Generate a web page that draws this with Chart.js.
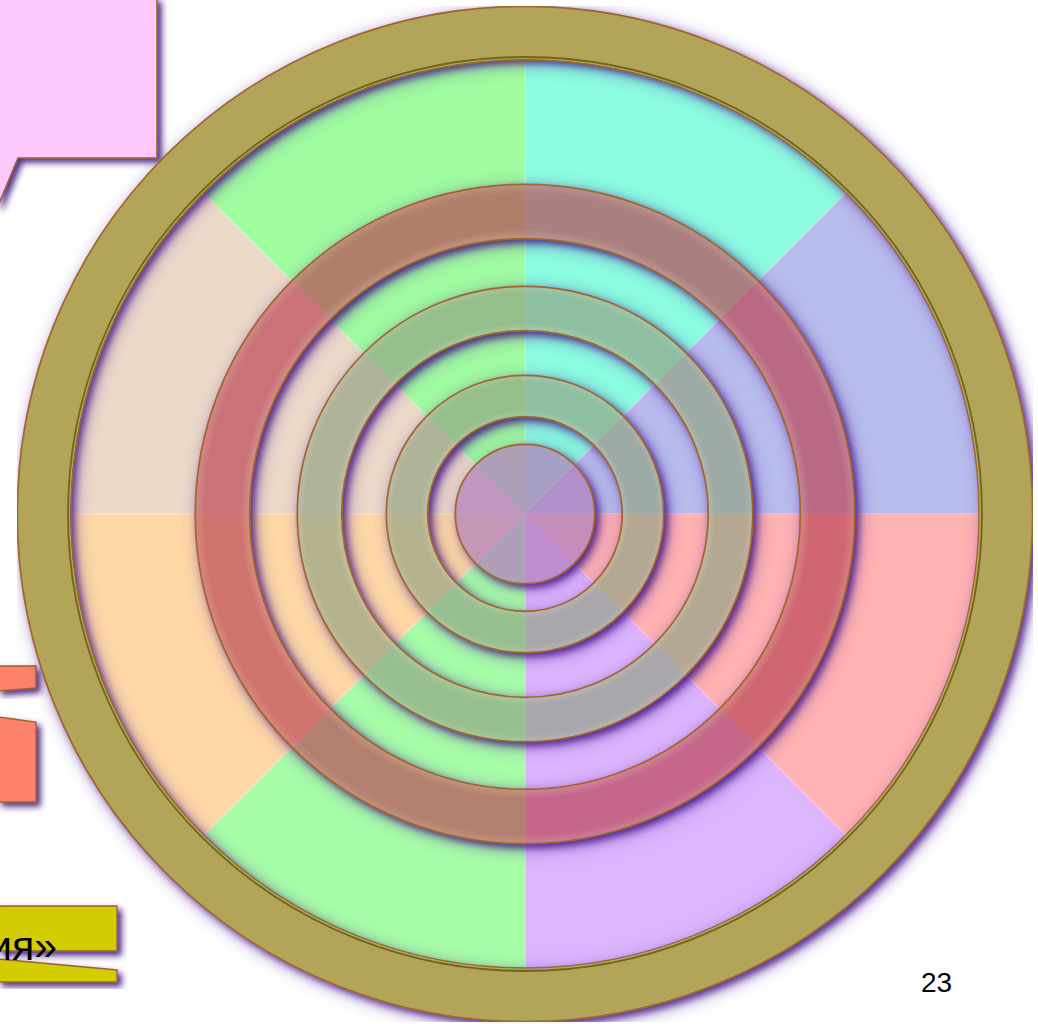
<!DOCTYPE html>
<html lang="ru">
<head>
<meta charset="utf-8">
<title>Кольца</title>
<script src="https://cdn.jsdelivr.net/npm/chart.js@4.4.1/dist/chart.umd.min.js"></script>
<style>
html,body{margin:0;padding:0;background:#fff;}
body{width:1038px;height:1024px;position:relative;overflow:hidden;font-family:"Liberation Sans",Arial,sans-serif;}
#deco{position:absolute;left:0;top:0;}
.wrap{position:absolute;left:17px;top:6px;width:1016px;height:1016px;}
.wrap canvas{position:absolute;left:0;top:0;}
</style>
</head>
<body>
<svg id="deco" width="1038" height="1024" xmlns="http://www.w3.org/2000/svg">
  <defs>
    <filter id="sh" x="-20%" y="-20%" width="150%" height="150%">
      <feDropShadow dx="4" dy="4" stdDeviation="3" flood-color="#3e1478" flood-opacity="0.9"/>
    </filter>
  </defs>
  <polygon points="-2,-2 157,-2 157,158 18,158 -2,206" fill="#fdc9fd" stroke="#9c6230" stroke-width="1.6" filter="url(#sh)"/>
  <polygon points="-2,666 36,666 36,688 -2,691" fill="#ff836a" stroke="#9c6230" stroke-width="1.4" filter="url(#sh)"/>
  <polygon points="-2,717 36,722 36,802 -2,802" fill="#ff836a" stroke="#9c6230" stroke-width="1.4" filter="url(#sh)"/>
  <polygon points="-2,906 117,906 117,951 -2,951" fill="#d2cc00" stroke="#9c6230" stroke-width="1.4" filter="url(#sh)"/>
  <polygon points="-2,959 117,970 117,982 -2,982" fill="#d2cc00" stroke="#9c6230" stroke-width="1.4" filter="url(#sh)"/>
  <text x="57" y="960" text-anchor="end" font-family="Liberation Sans, Arial, sans-serif" font-size="41" fill="#000">ия»</text>
  <text x="921" y="992" font-family="Liberation Sans, Arial, sans-serif" font-size="28" fill="#000">23</text>
</svg>
<div class="wrap">
  <canvas id="pie" width="1016" height="1016"></canvas>
  <canvas id="rings" width="1016" height="1016"></canvas>
</div>
<script>
// ---- data ----
const sectorLabels = ['1', '2', '3', '4', '5', '6', '7', '8'];
const sectorValues = [1, 1, 1, 1, 1, 1, 1, 1];
const ringLabels = ['Внешнее кольцо', 'Промежуток 1', 'Красное кольцо', 'Промежуток 2',
                    'Серое кольцо 1', 'Промежуток 3', 'Серое кольцо 2', 'Промежуток 4', 'Центр'];
const ringValues = [1, 1, 1, 1, 1, 1, 1, 1, 1];

// ---- styles / layout ----
const sectorColors = ['#8cfde0', '#b9bded', '#ffb3b3', '#ddb5fd', '#a8fda8', '#fed9a6', '#ecdac9', '#a0fca0'];
const ringWeights = [53, 125, 55, 47, 45, 44, 42, 27, 70];
const ringFills = ['#b2a55a', 'rgba(0,0,0,0)', 'rgba(184,67,82,0.68)', 'rgba(0,0,0,0)',
                   'rgba(145,161,131,0.68)', 'rgba(0,0,0,0)', 'rgba(145,161,131,0.68)', 'rgba(0,0,0,0)',
                   'rgba(178,128,188,0.75)'];
const ringVisible = [true, false, true, false, true, false, true, false, true];
const TAU = Math.PI * 2;

const ringFx = {
  id: 'ringFx',
  beforeDatasetsDraw(chart) {
    const ctx = chart.ctx;
    const OFF = 4000;
    chart.data.datasets.forEach((ds, i) => {
      if (!ringVisible[i]) return;
      const arc = chart.getDatasetMeta(i).data[0];
      const x = arc.x, y = arc.y, ro = arc.outerRadius, ri = arc.innerRadius;
      for (let pass = 0; pass < 2; pass++) {
        ctx.save();
        ctx.beginPath();
        ctx.rect(0, 0, chart.width, chart.height);
        ctx.moveTo(x + ro, y); ctx.arc(x, y, ro, 0, TAU);
        if (ri > 0.5) { ctx.moveTo(x + ri, y); ctx.arc(x, y, ri, 0, TAU); }
        ctx.clip('evenodd');
        ctx.shadowColor = pass === 0 ? 'rgba(90,40,170,0.55)' : 'rgba(60,15,120,0.75)';
        ctx.shadowBlur = pass === 0 ? 18 : 7;
        ctx.shadowOffsetX = OFF + 4;
        ctx.shadowOffsetY = 4;
        ctx.beginPath();
        ctx.moveTo(x - OFF + ro, y); ctx.arc(x - OFF, y, ro, 0, TAU);
        if (ri > 0.5) { ctx.moveTo(x - OFF + ri, y); ctx.arc(x - OFF, y, ri, 0, TAU); }
        ctx.fillStyle = '#000';
        ctx.fill('evenodd');
        ctx.restore();
      }
    });
  },
  afterDatasetsDraw(chart) {
    const ctx = chart.ctx;
    chart.data.datasets.forEach((ds, i) => {
      if (!ringVisible[i]) return;
      const arc = chart.getDatasetMeta(i).data[0];
      const x = arc.x, y = arc.y, ro = arc.outerRadius, ri = arc.innerRadius;
      ctx.save();
      if (ri > 0.5 && i > 0) {
        const g = ctx.createRadialGradient(x, y, ri, x, y, ro);
        g.addColorStop(0, 'rgba(255,240,200,0.22)');
        g.addColorStop(0.18, 'rgba(255,240,200,0)');
        g.addColorStop(0.82, 'rgba(255,240,200,0)');
        g.addColorStop(1, 'rgba(255,240,200,0.18)');
        ctx.beginPath();
        ctx.moveTo(x + ro, y); ctx.arc(x, y, ro, 0, TAU);
        ctx.moveTo(x + ri, y); ctx.arc(x, y, ri, 0, TAU);
        ctx.fillStyle = g; ctx.fill('evenodd');
      }
      ctx.strokeStyle = '#a0662e';
      ctx.lineWidth = 1.7;
      ctx.beginPath(); ctx.arc(x, y, ro - 0.3, 0, TAU); ctx.stroke();
      if (i === 0) {
        ctx.strokeStyle = '#6c6814';
        ctx.lineWidth = 1.8;
        ctx.beginPath(); ctx.arc(x, y, ri + 2, 0, TAU); ctx.stroke();
        ctx.strokeStyle = '#a0662e';
        ctx.lineWidth = 1.4;
        ctx.beginPath(); ctx.arc(x, y, ri - 1, 0, TAU); ctx.stroke();
      } else if (ri > 0.5) {
        ctx.beginPath(); ctx.arc(x, y, ri + 0.3, 0, TAU); ctx.stroke();
      }
      ctx.restore();
    });
  }
};

new Chart(document.getElementById('pie'), {
  type: 'pie',
  data: {
    labels: sectorLabels,
    datasets: [{
      data: sectorValues,
      backgroundColor: sectorColors,
      borderColor: 'rgba(255,255,255,0.3)',
      borderWidth: 1,
      hoverOffset: 0
    }]
  },
  options: {
    responsive: false,
    animation: false,
    events: [],
    radius: 457,
    plugins: { legend: { display: false }, tooltip: { enabled: false } }
  }
});

new Chart(document.getElementById('rings'), {
  type: 'doughnut',
  data: {
    labels: ['кольцо'],
    datasets: ringLabels.map((name, i) => ({
      label: name,
      data: [ringValues[i]],
      weight: ringWeights[i],
      backgroundColor: ringFills[i],
      borderWidth: 0,
      hoverOffset: 0
    }))
  },
  options: {
    responsive: false,
    animation: false,
    events: [],
    cutout: 0,
    radius: 508,
    plugins: { legend: { display: false }, tooltip: { enabled: false } }
  },
  plugins: [ringFx]
});
</script>
</body>
</html>
